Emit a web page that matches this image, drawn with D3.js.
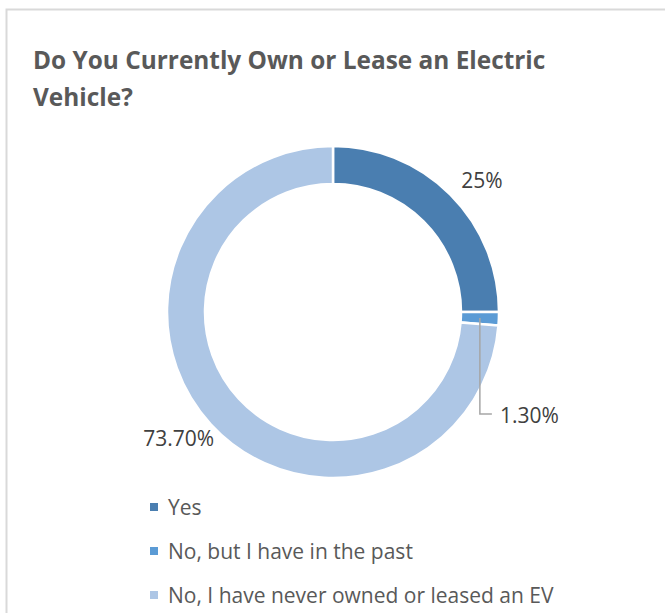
<!DOCTYPE html>
<html>
<head>
<meta charset="utf-8">
<script src="https://cdn.jsdelivr.net/npm/d3@7"></script>
<style>
  body { margin: 0; background: #fff; }
  text { font-family: "Open Sans", "Noto Sans", sans-serif; }
</style>
</head>
<body>
<div id="chart"></div>
<script>
// chart data
var categories = ["Yes", "No, but I have in the past", "No, I have never owned or leased an EV"];
var values = [25, 1.3, 73.7];
var valueLabels = ["25%", "1.30%", "73.70%"];
var colors = ["#4a7eb0", "#5b9bd5", "#adc6e5"];
var titleLines = ["Do You Currently Own or Lease an Electric", "Vehicle?"];

var width = 665, height = 613;
var cx = 333, cy = 312, outerR = 166, innerR = 128;

var svg = d3.select("#chart").append("svg")
  .attr("width", width)
  .attr("height", height);

// frame (right and bottom edges fall outside the picture)
svg.append("rect")
  .attr("x", 6.5).attr("y", 9.5)
  .attr("width", 700).attr("height", 700)
  .style("fill", "#fff")
  .style("stroke", "#d9d9d9")
  .style("stroke-width", 2);

// title
svg.append("g").selectAll("text")
  .data(titleLines)
  .enter()
  .append("text")
  .attr("x", 33)
  .attr("y", (d, i) => 69 + i * 37)
  .style("font-size", "24.4px")
  .style("font-weight", "bold")
  .style("fill", "#595959")
  .text(d => d);

var pie = d3.pie().sort(null).value(d => d);
var arcs = pie(values);
var arc = d3.arc().innerRadius(innerR).outerRadius(outerR);

var main = svg.append("g")
  .attr("transform", "translate(" + cx + "," + cy + ")");

main.selectAll("path")
  .data(arcs)
  .enter()
  .append("path")
  .attr("d", arc)
  .style("fill", (d, i) => colors[i])
  .style("stroke", "#fff")
  .style("stroke-width", 2.5);

// data labels
var labelR = 199, labelTurn = 3.5 * Math.PI / 180;
function polar(r, a) { return [r * Math.sin(a), -r * Math.cos(a)]; }

arcs.forEach(function(d, i) {
  var mid = (d.startAngle + d.endAngle) / 2;
  if (i === 1) {
    // small slice: leader line
    var p0 = polar((innerR + outerR) / 2, mid);
    var yEnd = p0[1] + 96;
    main.append("path")
      .attr("d", "M" + p0[0] + "," + p0[1] + "V" + yEnd + "H" + (p0[0] + 12))
      .style("fill", "none")
      .style("stroke", "#a6a6a6")
      .style("stroke-width", 1.5);
    main.append("text")
      .attr("x", p0[0] + 20)
      .attr("y", yEnd + 9)
      .style("font-size", "21px")
      .style("fill", "#404040")
      .text(valueLabels[i]);
  } else {
    var p = polar(labelR, mid + labelTurn);
    main.append("text")
      .attr("x", p[0])
      .attr("y", p[1] + 8)
      .attr("text-anchor", "middle")
      .style("font-size", "21px")
      .style("fill", "#404040")
      .text(valueLabels[i]);
  }
});

// legend
var legend = svg.append("g")
  .attr("transform", "translate(150,507)");

var item = legend.selectAll("g")
  .data(categories)
  .enter()
  .append("g")
  .attr("transform", (d, i) => "translate(0," + (i * 44) + ")");

item.append("rect")
  .attr("x", 0).attr("y", -4)
  .attr("width", 8).attr("height", 8)
  .style("fill", (d, i) => colors[i]);

item.append("text")
  .attr("x", 18)
  .attr("y", 8)
  .style("font-size", "21px")
  .style("fill", "#595959")
  .text(d => d);
</script>
</body>
</html>
